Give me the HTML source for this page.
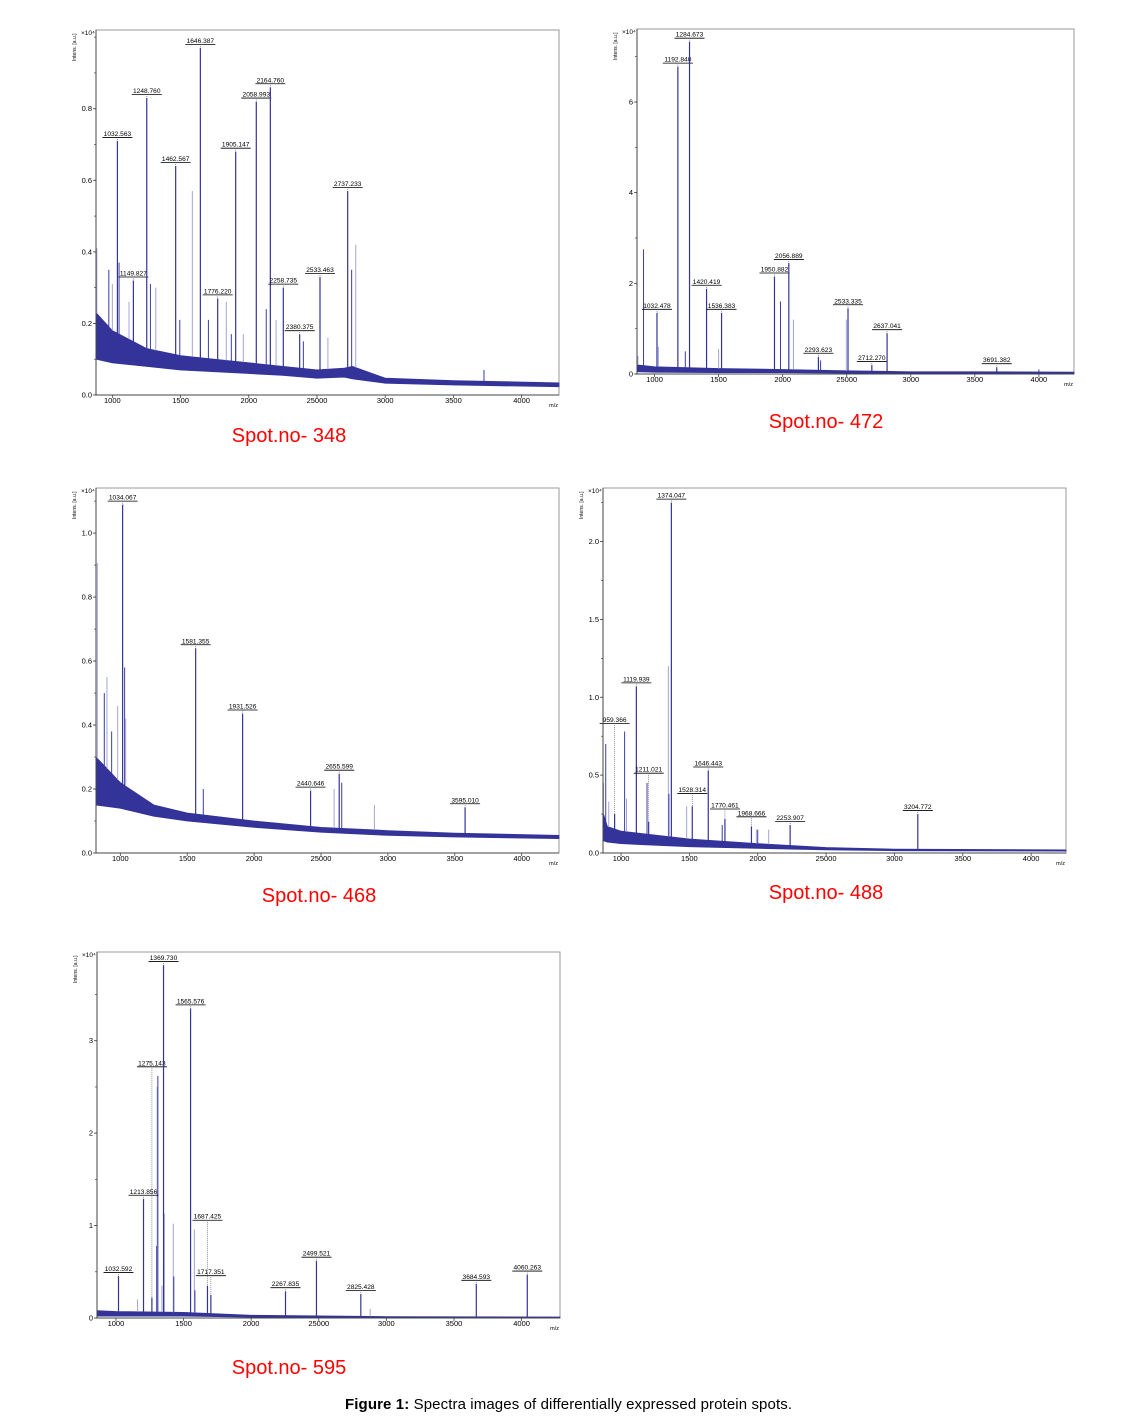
<!DOCTYPE html>
<html><head><meta charset="utf-8"><style>
html,body{margin:0;padding:0;background:#fff;overflow:hidden;}
svg{display:block;}
</style></head>
<body>
<svg id="fig" width="1134" height="1422" viewBox="0 0 1134 1422" xmlns="http://www.w3.org/2000/svg" font-family="Liberation Sans, Arial, sans-serif">
<text x="345" y="1409" font-size="15" textLength="447" fill="#000"><tspan font-weight="bold">Figure 1:</tspan> Spectra images of differentially expressed protein spots.</text>
</svg>
<script>
// ---------- Data ----------
// Panel 1 (Spot 348)
const p1PeakMz = [1037,1154,1252,1464,1645,1772,1904,2055,2158,2253,2373,2522,2725];
const p1PeakH  = [0.71,0.32,0.83,0.64,0.97,0.27,0.68,0.82,0.86,0.30,0.17,0.33,0.57];
const p1PeakLabels = ["1032.563","1149.827","1248.760","1462.567","1646.387","1776.220","1905.147","2058.993","2164.760","2258.735","2380.375","2533.463","2737.233"];
const p1MinorMz = [886,974,1000,1049,1122,1279,1318,1494,1586,1704,1835,1872,1960,2128,2200,2400,2580,2754,2784,3724];
const p1MinorH  = [0.41,0.35,0.31,0.37,0.26,0.31,0.30,0.21,0.57,0.21,0.26,0.17,0.17,0.24,0.21,0.15,0.16,0.35,0.42,0.07];
const p1BaseMz  = [880,1000,1250,1500,1750,2000,2250,2500,2700,2760,3000,3500,4274];
const p1BaseTop = [0.23,0.18,0.13,0.11,0.10,0.09,0.08,0.07,0.075,0.08,0.047,0.04,0.034];
const p1BaseBot = [0.10,0.09,0.08,0.07,0.065,0.06,0.055,0.047,0.05,0.045,0.033,0.028,0.023];
// Panel 2 (Spot 472)
const p2PeakMz = [1019,1182,1273,1406,1523,1936,2048,2279,2510,2696,2815,3671];
const p2PeakH  = [1.35,6.78,7.33,1.88,1.35,2.15,2.45,0.38,1.45,0.20,0.90,0.15];
const p2PeakLabels = ["1032.478","1192.840","1284.673","1420.419","1536.383","1950.882","2056.889","2293.623","2533.335","2712.270","2637.041","3691.382"];
const p2MinorMz = [870,914,1030,1240,1500,1983,2084,2296,2497,4000];
const p2MinorH  = [0.4,2.75,0.6,0.5,0.55,1.6,1.2,0.3,1.2,0.1];
const p2BaseMz  = [863,1000,1500,2000,2500,3000,3500,4274];
const p2BaseTop = [0.2,0.16,0.12,0.1,0.07,0.05,0.05,0.04];
const p2BaseBot = [0.05,0.04,0.03,0.03,0.02,0.01,0.01,0.01];
// Panel 3 (Spot 468)
const p3PeakMz = [1017,1563,1914,2422,2636,3577];
const p3PeakH  = [1.089,0.64,0.436,0.195,0.248,0.143];
const p3PeakLabels = ["1034.067","1581.355","1931.526","2440.646","2655.599","3595.010"];
const p3MinorMz = [828,880,900,935,980,1032,1040,1620,2598,2655,2899];
const p3MinorH  = [0.906,0.50,0.55,0.38,0.46,0.58,0.42,0.20,0.20,0.22,0.15];
const p3BaseMz  = [818,1000,1250,1500,2000,2500,3000,3500,4279];
const p3BaseTop = [0.30,0.22,0.15,0.125,0.10,0.08,0.07,0.062,0.055];
const p3BaseBot = [0.15,0.14,0.115,0.10,0.08,0.065,0.055,0.05,0.045];
// Panel 4 (Spot 488)
const p4PeakMz = [953,1112,1202,1368,1521,1638,1760,1954,2237,3171];
const p4PeakH  = [0.25,1.07,0.20,2.25,0.30,0.53,0.22,0.17,0.18,0.25];
const p4LabelH = [0.81,1.07,0.49,2.25,0.36,0.53,0.26,0.21,0.18,0.25];
const p4PeakLabels = ["959.366","1119.939","1211.021","1374.047","1528.314","1646.443","1770.461","1968.666","2253.907","3204.772"];
const p4MinorMz = [872,888,910,1026,1040,1190,1346,1350,1480,1740,1990,2000,2080];
const p4MinorH  = [0.45,0.70,0.33,0.78,0.35,0.45,1.20,0.38,0.30,0.18,0.15,0.15,0.15];
const p4BaseMz  = [868,900,1000,1500,2000,2500,3000,4255];
const p4BaseTop = [0.26,0.17,0.14,0.09,0.06,0.035,0.025,0.02];
const p4BaseBot = [0.08,0.07,0.06,0.04,0.03,0.02,0.015,0.012];
// Panel 5 (Spot 595)
const p5PeakMz = [1019,1204,1266,1352,1552,1677,1702,2254,2483,2811,3665,4042];
const p5PeakH  = [0.455,1.29,0.22,3.82,3.35,0.35,0.25,0.29,0.62,0.26,0.37,0.47];
const p5LabelH = [0.455,1.29,2.68,3.82,3.35,1.02,0.42,0.29,0.62,0.26,0.37,0.47];
const p5PeakLabels = ["1032.592","1213.856","1275.143","1369.730","1565.576","1687.425","1717.351","2267.835","2499.521","2825.428","3684.593","4060.263"];
const p5MinorMz = [1160,1300,1305,1310,1340,1355,1424,1428,1580,1584,2880];
const p5MinorH  = [0.2,0.78,2.5,2.62,0.35,1.13,1.02,0.45,0.96,0.3,0.1];
const p5BaseMz  = [860,1000,1500,2000,3000,4284];
const p5BaseTop = [0.08,0.07,0.06,0.03,0.015,0.01];
const p5BaseBot = [0.02,0.02,0.02,0.01,0.005,0.003];

const xTickVals = [1000,1500,2000,2500,3000,3500,4000];
const xTickLabels = ["1000","1500","2000","25000","3000","3500","4000"];

const panels = [
 {name:"spot-348",box:[96,30,559,395],xr:[880,4274],yr:[0,1.02],yt:[0,0.2,0.4,0.6,0.8],ytl:["0.0","0.2","0.4","0.6","0.8"],minor:0.1,
  mz:p1PeakMz,h:p1PeakH,lab:p1PeakLabels,lh:null,mmz:p1MinorMz,mh:p1MinorH,bm:p1BaseMz,bt:p1BaseTop,bb:p1BaseBot,cap:"Spot.no- 348",cx:289,cy:442},
 {name:"spot-472",box:[637,29,1074,374],xr:[863,4274],yr:[0,7.61],yt:[0,2,4,6],ytl:["0","2","4","6"],minor:1,
  mz:p2PeakMz,h:p2PeakH,lab:p2PeakLabels,lh:null,mmz:p2MinorMz,mh:p2MinorH,bm:p2BaseMz,bt:p2BaseTop,bb:p2BaseBot,cap:"Spot.no- 472",cx:826,cy:428},
 {name:"spot-468",box:[96,488,559,853],xr:[818,4279],yr:[0,1.141],yt:[0,0.2,0.4,0.6,0.8,1.0],ytl:["0.0","0.2","0.4","0.6","0.8","1.0"],minor:0.1,
  mz:p3PeakMz,h:p3PeakH,lab:p3PeakLabels,lh:null,mmz:p3MinorMz,mh:p3MinorH,bm:p3BaseMz,bt:p3BaseTop,bb:p3BaseBot,cap:"Spot.no- 468",cx:319,cy:902},
 {name:"spot-488",box:[603,488,1066,853],xr:[868,4255],yr:[0,2.344],yt:[0,0.5,1.0,1.5,2.0],ytl:["0.0","0.5","1.0","1.5","2.0"],minor:0.25,
  mz:p4PeakMz,h:p4PeakH,lab:p4PeakLabels,lh:p4LabelH,mmz:p4MinorMz,mh:p4MinorH,bm:p4BaseMz,bt:p4BaseTop,bb:p4BaseBot,cap:"Spot.no- 488",cx:826,cy:899},
 {name:"spot-595",box:[97,952,560,1318],xr:[860,4284],yr:[0,3.96],yt:[0,1,2,3],ytl:["0","1","2","3"],minor:0.5,
  mz:p5PeakMz,h:p5PeakH,lab:p5PeakLabels,lh:p5LabelH,mmz:p5MinorMz,mh:p5MinorH,bm:p5BaseMz,bt:p5BaseTop,bb:p5BaseBot,cap:"Spot.no- 595",cx:289,cy:1374}
];

const NS="http://www.w3.org/2000/svg";
const svg=document.getElementById('fig');
function el(t,a,p){const e=document.createElementNS(NS,t);for(const k in a)e.setAttribute(k,a[k]);(p||svg).appendChild(e);return e;}

panels.forEach(P=>{
  const [L,T,R,B]=P.box;
  const g=el('g',{});
  
  
  const xs=m=>L+(m-P.xr[0])/(P.xr[1]-P.xr[0])*(R-L);
  const ys=v=>B-(v-P.yr[0])/(P.yr[1]-P.yr[0])*(B-T);
  const baseAt=(arr,m)=>{for(let i=0;i<P.bm.length-1;i++){if(m<=P.bm[i+1]){const f=(m-P.bm[i])/(P.bm[i+1]-P.bm[i]);return arr[i]+f*(arr[i+1]-arr[i]);}}return arr[arr.length-1];};
  const fr=el('rect',{x:L,y:T,width:R-L,height:B-T,fill:'#fff',stroke:'#9a9a9a','stroke-width':1},g);
  
  
  let pts=P.bm.map((m,i)=>xs(m)+','+ys(P.bt[i]));
  pts=pts.concat(P.bm.slice().reverse().map((m,i)=>xs(m)+','+ys(P.bb[P.bb.length-1-i])));
  const band=el('polygon',{points:pts.join(' '),fill:'#33339a',stroke:'#33339a','stroke-width':0.8},g);
  
  
  P.mmz.forEach((m,i)=>{
    const x=xs(m);
    const ln=el('line',{x1:x,y1:ys(baseAt(P.bt,m)),x2:x,y2:ys(P.mh[i]),stroke:i%2?'#3c3ca4':'#a4a4d4','stroke-width':1},g);
    
    
  });
  P.mz.forEach((m,i)=>{
    const x=xs(m), yTop=ys(P.h[i]);
    const lh=P.lh?P.lh[i]:P.h[i];
    const yl=ys(lh);
    const pk=el('line',{x1:x,y1:ys(baseAt(P.bt,m)),x2:x,y2:yTop,stroke:'#33339a','stroke-width':1.2},g);
    
    
    if(yTop>yl-2){
      el('line',{x1:x,y1:yl-2,x2:x,y2:yTop,stroke:'#666','stroke-width':0.7,'stroke-dasharray':'1,1'},g);
    }
    const tx=el('text',{x:x,y:yl-5,'font-size':6.6,'text-anchor':'middle',fill:'#000'},g);
    tx.textContent=P.lab[i];
    
    
    el('line',{x1:x-15,y1:yl-3.5,x2:x+15,y2:yl-3.5,stroke:'#000','stroke-width':0.8},g);
  });
  el('line',{x1:L,y1:T,x2:L,y2:B,stroke:'#444','stroke-width':1},g);
  el('line',{x1:L,y1:B,x2:R,y2:B,stroke:'#444','stroke-width':1},g);
  xTickVals.forEach((v,i)=>{
    const x=xs(v);
    el('line',{x1:x,y1:B,x2:x,y2:B+3,stroke:'#444','stroke-width':0.8},g);
    const t=el('text',{x:x,y:B+8,'font-size':7.5,'text-anchor':'middle',fill:'#000'},g);
    t.textContent=xTickLabels[i];
    
    
  });
  for(let v=P.yr[0];v<=P.yr[1];v+=P.minor){
    el('line',{x1:L-2,y1:ys(v),x2:L,y2:ys(v),stroke:'#444','stroke-width':0.7},g);
  }
  P.yt.forEach((v,i)=>{
    el('line',{x1:L-3,y1:ys(v),x2:L,y2:ys(v),stroke:'#444','stroke-width':0.8},g);
    const t=el('text',{x:L-4,y:ys(v)+2.5,'font-size':7.5,'text-anchor':'end',fill:'#000'},g);
    t.textContent=P.ytl[i];
    
    
  });
  const mzl=el('text',{x:R-1,y:B+12,'font-size':5.5,'text-anchor':'end',fill:'#000'},g);
  mzl.textContent='m/z';
  
  
  const yt=el('text',{x:0,y:0,'font-size':5,fill:'#000',transform:'translate('+(L-20)+','+(T+31)+') rotate(-90)'},g);
  yt.textContent='Intens. [a.u.]';
  
  
  const ex=el('text',{x:L-15,y:T+5,'font-size':6.5,fill:'#000'},g);
  ex.textContent='×10⁴';
  
  
  const cap=el('text',{x:P.cx,y:P.cy,'font-size':20,'text-anchor':'middle',fill:'#ff0000'},g);
  cap.textContent=P.cap;
  
  
});
</script>
</body></html>
